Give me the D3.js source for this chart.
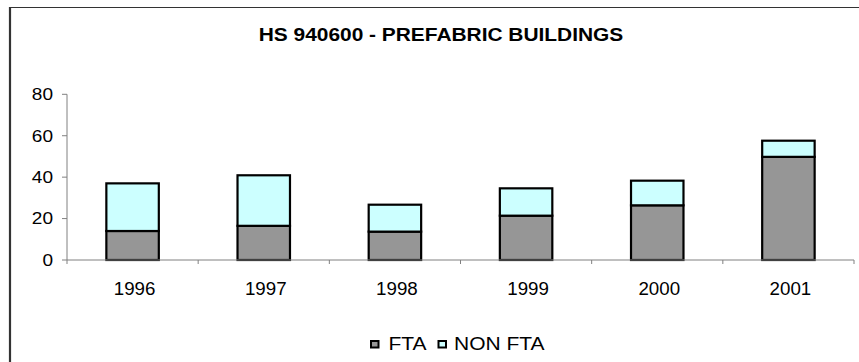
<!DOCTYPE html>
<html>
<head>
<meta charset="utf-8">
<script src="https://cdn.jsdelivr.net/npm/d3@7"></script>
<style>
  html, body { margin: 0; padding: 0; background: #fff; }
  svg { display: block; font-family: "Liberation Sans", Arial, sans-serif; }
</style>
</head>
<body>
<svg id="chart" width="859" height="362"></svg>
<script>
// Imports of prefabricated buildings (HS 940600), by year
const years = ["1996", "1997", "1998", "1999", "2000", "2001"];
const fta = [14, 16.5, 13.7, 21.4, 26.4, 49.8];
const nonFta = [23, 24.4, 13, 13.2, 11.9, 7.8];
const seriesNames = ["FTA", "NON FTA"];
const seriesColors = ["#969696", "#ccffff"];
const yTicks = [0, 20, 40, 60, 80];
const title = "HS 940600 - PREFABRIC BUILDINGS";

const svg = d3.select("#chart");
const W = 859, H = 362;
const plot = { left: 67, right: 854, top: 94.3, bottom: 260 };

// chart area frame (runs off the right and bottom edges)
svg.append("line").attr("x1", 10).attr("x2", 10).attr("y1", 7).attr("y2", H + 5)
  .attr("stroke", "#333").attr("stroke-width", 2.2);
svg.append("line").attr("x1", 9).attr("x2", W + 5).attr("y1", 7.5).attr("y2", 7.5)
  .attr("stroke", "#333").attr("stroke-width", 1.2);

// text drawn slightly wide, as in the original export
function wideText(sel, x, y, str, size, sx, anchor, weight) {
  return sel.append("text")
    .attr("transform", `translate(${x},${y}) scale(${sx},1)`)
    .attr("text-anchor", anchor)
    .attr("font-size", size)
    .attr("font-weight", weight || "normal")
    .attr("fill", "#000")
    .text(str);
}

wideText(svg, 441, 41, title, 17.5, 1.195, "middle", "bold");

const x = d3.scaleBand().domain(years).range([plot.left, plot.right])
  .paddingInner(0.6).paddingOuter(0.3);
const xAxisBand = d3.scaleBand().domain(years).range([plot.left, plot.right]);
const y = d3.scaleLinear().domain([0, 80]).range([plot.bottom, plot.top]);

// stacked data
const rows = years.map((yr, i) => ({ year: yr, FTA: fta[i], "NON FTA": nonFta[i] }));
const stack = d3.stack().keys(seriesNames)(rows);

const bars = svg.append("g");
stack.forEach((layer, li) => {
  bars.selectAll(null).data(layer).enter().append("rect")
    .attr("x", (d, i) => x(years[i]))
    .attr("width", x.bandwidth())
    .attr("y", d => y(d[1]))
    .attr("height", d => y(d[0]) - y(d[1]))
    .attr("fill", seriesColors[li])
    .attr("stroke", "#000")
    .attr("stroke-width", 2.2);
});

// y axis
const axisColor = "#808080";
const gy = svg.append("g");
gy.append("line").attr("x1", plot.left).attr("x2", plot.left)
  .attr("y1", plot.top).attr("y2", plot.bottom).attr("stroke", axisColor);
yTicks.forEach(t => {
  gy.append("line").attr("x1", plot.left - 5).attr("x2", plot.left)
    .attr("y1", y(t)).attr("y2", y(t)).attr("stroke", axisColor);
  wideText(gy, 53, y(t) + 5.8, String(t), 17, 1.12, "end");
});

// x axis
const gx = svg.append("g");
gx.append("line").attr("x1", plot.left).attr("x2", plot.right)
  .attr("y1", plot.bottom).attr("y2", plot.bottom).attr("stroke", axisColor);
const boundaries = years.map(yr => xAxisBand(yr)).concat([plot.right]);
boundaries.forEach(b => {
  gx.append("line").attr("x1", b).attr("x2", b)
    .attr("y1", plot.bottom).attr("y2", plot.bottom + 4).attr("stroke", axisColor);
});
years.forEach(yr => {
  wideText(gx, x(yr) + x.bandwidth() / 2 + 2, 294.5, yr, 18, 1.04, "middle");
});

// legend
const lg = svg.append("g");
const legendItems = [
  { name: seriesNames[0], color: seriesColors[0], box: 370, text: 388.5 },
  { name: seriesNames[1], color: seriesColors[1], box: 437.5, text: 454 }
];
legendItems.forEach(it => {
  lg.append("rect").attr("x", it.box + 1).attr("y", 341).attr("width", 7.5).attr("height", 6.5)
    .attr("fill", it.color).attr("stroke", "#000").attr("stroke-width", 2);
  wideText(lg, it.text, 349.5, it.name, 17.5, 1.2, "start");
});
</script>
</body>
</html>
